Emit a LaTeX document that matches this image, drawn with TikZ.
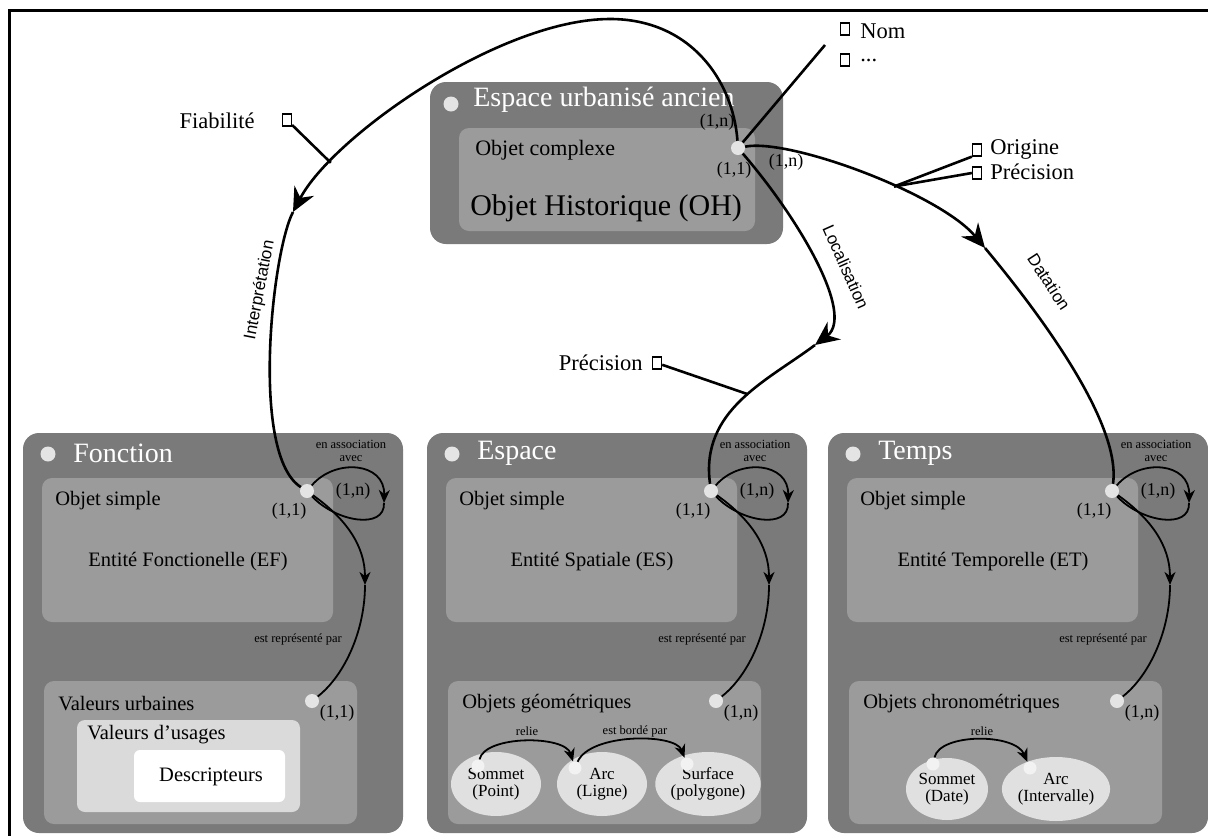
\documentclass[tikz,border=0pt]{standalone}
\usepackage{fontspec}
\setmainfont{Liberation Serif}
\newfontfamily\sansf{Liberation Sans}
\usetikzlibrary{arrows.meta,shapes.geometric}
\definecolor{grisfonce}{RGB}{122,122,122}
\definecolor{grismoyen}{RGB}{155,155,155}
\definecolor{grisclair}{RGB}{224,224,224}
\definecolor{pastille}{RGB}{228,228,228}
\definecolor{usage}{RGB}{218,218,218}

\begin{document}
\begin{tikzpicture}[x=1pt, y=-1pt, line width=0.6pt,
	paquet/.style={fill=grisfonce, rounded corners=16pt},
	classe/.style={fill=grismoyen, rounded corners=10pt},
	puce/.style={circle, fill=pastille, inner sep=0pt, minimum size=15pt},
	port/.style={circle, fill=pastille, inner sep=0pt, minimum size=14pt},
	titre/.style={anchor=west, inner sep=0pt, text=white,
		font=\fontsize{28}{30}\selectfont},
	etiq/.style={anchor=west, inner sep=0pt, font=\fontsize{20.5}{23}\selectfont},
	card/.style={inner sep=0pt, font=\fontsize{18}{20}\selectfont},
	petit/.style={inner sep=0pt, align=center, font=\fontsize{12.5}{13}\selectfont},
	role/.style={inner sep=0pt, font=\sansf\fontsize{17}{19}\selectfont},
	attr/.style={inner sep=0pt, font=\fontsize{22.5}{24}\selectfont},
	case/.style={draw=black, fill=white, line width=1.3pt, inner sep=0pt,
		minimum width=9pt, minimum height=12pt},
	lien/.style={line width=2.6pt, black},
	fleche/.style={lien, -{Stealth[length=24pt, width=22pt, inset=8pt]}},
	boucle/.style={line width=1.8pt, black},
	flechette/.style={boucle, -{Stealth[length=13pt, width=11pt, inset=4pt]}},
	bulle/.style={ellipse, fill=grisclair, inner sep=0pt, minimum width=90pt,
		minimum height=64pt, align=center, font=\fontsize{17}{17.5}\selectfont}]
	
	\useasboundingbox (0,0) rectangle (1208,836);
	\fill[white] (0,0) rectangle (1208,836);
	\draw[line width=3pt] (1208,10.5) -- (9.5,10.5) -- (9.5,836);
	
	%% espace urbanise ancien
	\fill[paquet] (430,82) rectangle (783,244);
	\fill[classe] (459,128) rectangle (755,231);
	\node[puce] (ohb) at (451,104) {};
	\node[titre] (oht) at (473,100) {Espace urbanisé ancien};
	\node[etiq, font=\fontsize{22}{24}\selectfont] (ohs) at (475,150) {Objet complexe};
	\node[etiq, font=\fontsize{30}{32}\selectfont] (ohn) at (470,208) {Objet Historique (OH)};
	\node[port] (ohp) at (738,148) {};
	\node[card] (ohc1) at (717,122) {(1,n)};
	\node[card] (ohc2) at (734,170) {(1,1)};
	\node[card] (ohc3) at (786,162) {(1,n)};
	
	%% les trois paquets du bas
	\foreach \dx/\nm/\tit/\ent/\bas/\cb in {
		0/f/Fonction/{Entité Fonctionelle (EF)}/{Valeurs urbaines}/{(1,1)},
		404/e/Espace/{Entité Spatiale (ES)}/{Objets géométriques}/{(1,n)},
		805/t/Temps/{Entité Temporelle (ET)}/{Objets chronométriques}/{(1,n)}}{
		\begin{scope}[shift={(\dx,0)}]
			\fill[paquet] (23,433) rectangle (403,833);
			\fill[classe] (42,478) rectangle (333,622);
			\fill[classe] (44,681) rectangle (357,824);
			\node[puce] (\nm b) at (48,454) {};
			\node[titre] (\nm t) at (73,453) {\tit};
			\node[etiq] (\nm s) at (55,501) {Objet simple};
			\node[etiq, anchor=center] (\nm n) at (188,562) {\ent};
			\node[etiq] (\nm v) at (58,704) {\bas};
			\node[port] (\nm p) at (307,491) {};
			\node[port] (\nm q) at (312,701) {};
			\node[card] (\nm c1) at (289,511) {(1,1)};
			\node[card] (\nm c2) at (353,491) {(1,n)};
			\node[card] (\nm c3) at (337,713) {\cb};
			\node[petit] (\nm a) at (351,451) {en association\\avec};
			\node[petit] (\nm r) at (298,639) {est représenté par};
			%% en association avec (boucle)
			\coordinate (\nm l) at (384,503);
			\draw[flechette] (\nm p) .. controls (335,458) and (385,462) .. (\nm l);
			\draw[boucle] (\nm l) .. controls (385,530) and (336,522) .. (\nm p);
			%% est represente par
			\coordinate (\nm m) at (365,585);
			\draw[flechette] (\nm p) .. controls (345,518) and (365,545) .. (\nm m);
			\draw[boucle] (\nm m) .. controls (365,630) and (345,675) .. (\nm q);
		\end{scope}}
	
	%% fonction : valeurs
	\fill[usage, rounded corners=8pt] (77,720) rectangle (300,812);
	\node[etiq] (vus) at (87,735) {Valeurs d'usages};
	\fill[white, rounded corners=6pt] (134,750) rectangle (285,802);
	\node[etiq, anchor=center] (desc) at (211,777) {Descripteurs};
	
	%% espace : objets geometriques
	\node[bulle] (som) at (496,784) {Sommet\\(Point)};
	\node[bulle] (arc) at (602,784) {Arc\\(Ligne)};
	\node[bulle] (surf) at (708,784) {Surface\\(polygone)};
	\node[port, fill=white!95!black, minimum size=13pt] (somp) at (478,766) {};
	\node[port, fill=white!95!black, minimum size=13pt] (arcp) at (575,768) {};
	\node[port, fill=white!95!black, minimum size=13pt] (surfp) at (687,764) {};
	\draw[flechette] (somp) .. controls (485,735) and (565,735) .. (arcp);
	\draw[flechette] (arcp) .. controls (590,733) and (675,733) .. (surfp);
	\node[petit] (rel1) at (527,731) {relie};
	\node[petit] (bor) at (635,731) {est bordé par};
	
	%% temps : objets chronometriques
	\node[bulle, minimum width=82pt, minimum height=62pt] (som2) at (947,789) {Sommet\\(Date)};
	\node[bulle] (arc2) at (1056,789) {Arc\\(Intervalle)};
	\node[port, fill=white!95!black, minimum size=13pt] (som2p) at (933,764) {};
	\node[port, fill=white!95!black, minimum size=13pt] (arc2p) at (1030,768) {};
	\draw[flechette] (som2p) .. controls (940,733) and (1015,733) .. (arc2p);
	\node[petit] (rel2) at (982,731) {relie};
	
	%% interpretation
	\coordinate (i1) at (610,19);
	\coordinate (i2) at (293,212);
	\draw[lien] (ohp) .. controls (733,80) and (690,19) .. (i1);
	\draw[fleche] (i1) .. controls (500,19) and (333,136) .. (i2) coordinate[pos=0.8] (jfia);
	\draw[lien] (i2) .. controls (272,252) and (250,455) .. (fp);
	\node[role, rotate=79] (interp) at (260,290) {Interprétation};
	\node[attr, anchor=east] (fia) at (255,121) {Fiabilité};
	\node[case] (fiac) at (287,120) {};
	\draw[lien] (fiac) -- (jfia);
	
	%% localisation
	\coordinate (l1) at (815,345);
	\draw[fleche] (ohp) .. controls (800,220) and (855,315) .. (l1);
	\draw[lien] (l1) .. controls (767,381) and (700,410) .. (ep) coordinate[pos=0.45] (jloc);
	\node[role, rotate=-66] (loc) at (846,267) {Localisation};
	\node[attr, anchor=east] (prl) at (643,363) {Précision};
	\node[case] (prlc) at (657,363) {};
	\draw[lien] (prlc) -- (jloc);
	
	%% datation
	\coordinate (d1) at (985,248);
	\draw[fleche] (ohp) .. controls (790,138) and (940,194) .. (d1) coordinate[pos=0.6] (jdat);
	\draw[lien] (d1) .. controls (1030,302) and (1122,420) .. (tp);
	\node[role, rotate=-57] (dat) at (1049,282) {Datation};
	\node[case] (orc) at (977,150) {};
	\node[attr, anchor=west] (ori) at (990,149) {Origine};
	\node[case] (prc) at (977,173) {};
	\node[attr, anchor=west] (prd) at (990,172) {Précision};
	\draw[lien] (jdat) -- (orc.south west);
	\draw[lien] (jdat) -- (prc.west);
	
	%% attributs
	\coordinate (nomj) at (825,45);
	\draw[lien] (ohp) -- (nomj);
	\node[case] (nomc) at (845,29) {};
	\node[attr, anchor=west] (nom) at (860,31) {Nom};
	\node[case] (etcc) at (845,60) {};
	\node[attr, anchor=west] (etc) at (860,60) {...};
	
\end{tikzpicture}
\end{document}
